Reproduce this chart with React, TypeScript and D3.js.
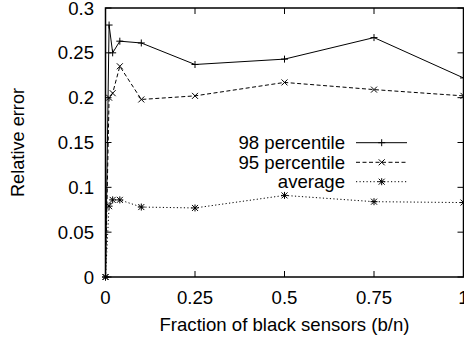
import { useEffect, useRef } from 'react';
import * as d3 from 'd3';

const X_VALUES = [0, 0.01, 0.02, 0.04, 0.1, 0.25, 0.5, 0.75, 1];
const P98 = [0, 0.281, 0.25, 0.263, 0.261, 0.237, 0.243, 0.267, 0.222];
const P95 = [0, 0.2, 0.205, 0.235, 0.198, 0.202, 0.217, 0.209, 0.202];
const AVG = [0, 0.079, 0.086, 0.086, 0.078, 0.077, 0.091, 0.084, 0.083];

const X_TICKS = [0, 0.25, 0.5, 0.75, 1];
const X_TICK_LABELS = ['0', '0.25', '0.5', '0.75', '1'];
const Y_TICKS = [0, 0.05, 0.1, 0.15, 0.2, 0.25, 0.3];
const Y_TICK_LABELS = ['0', '0.05', '0.1', '0.15', '0.2', '0.25', '0.3'];

const SERIES_NAMES = ['98 percentile', '95 percentile', 'average'];

const WIDTH = 464;
const HEIGHT = 341;
const PLOT = { left: 105.5, right: 463.5, top: 8, bottom: 277 };
const FONT = '"Liberation Sans", Arial, Helvetica, sans-serif';
const FONT_SIZE = 18.6;
const TICK = 6;

type Marker = 'plus' | 'cross' | 'star';

const markerPath = (kind: Marker, x: number, y: number) => {
  const p = 3.5;
  const c = 3;
  const plus = `M${x - p},${y}H${x + p}M${x},${y - p}V${y + p}`;
  const cross = `M${x - c},${y - c}L${x + c},${y + c}M${x - c},${y + c}L${x + c},${y - c}`;
  if (kind === 'plus') return plus;
  if (kind === 'cross') return cross;
  return plus + cross;
};

export default function App() {
  const svgRef = useRef<SVGSVGElement>(null);

  useEffect(() => {
    if (!svgRef.current) return;
    const svg = d3.select(svgRef.current);
    svg.selectAll('*').remove();

    const x = d3.scaleLinear().domain([0, 1]).range([PLOT.left, PLOT.right]);
    const y = d3.scaleLinear().domain([0, 0.3]).range([PLOT.bottom, PLOT.top]);

    const g = svg.append('g');

    // ticks on all four sides, pointing inward
    X_TICKS.forEach((t, i) => {
      g.append('line')
        .attr('x1', x(t)).attr('x2', x(t))
        .attr('y1', PLOT.bottom).attr('y2', PLOT.bottom - TICK)
        .attr('stroke', '#000').attr('stroke-width', 1);
      g.append('line')
        .attr('x1', x(t)).attr('x2', x(t))
        .attr('y1', PLOT.top).attr('y2', PLOT.top + TICK)
        .attr('stroke', '#000').attr('stroke-width', 1);
      g.append('text')
        .attr('x', x(t)).attr('y', 304)
        .attr('text-anchor', 'middle')
        .attr('font-family', FONT).attr('font-size', FONT_SIZE)
        .attr('fill', '#000')
        .text(X_TICK_LABELS[i]);
    });

    Y_TICKS.forEach((t, i) => {
      g.append('line')
        .attr('x1', PLOT.left).attr('x2', PLOT.left + TICK)
        .attr('y1', y(t)).attr('y2', y(t))
        .attr('stroke', '#000').attr('stroke-width', 1);
      g.append('line')
        .attr('x1', PLOT.right).attr('x2', PLOT.right - TICK)
        .attr('y1', y(t)).attr('y2', y(t))
        .attr('stroke', '#000').attr('stroke-width', 1);
      g.append('text')
        .attr('x', 94).attr('y', y(t) + 6.6)
        .attr('text-anchor', 'end')
        .attr('font-family', FONT).attr('font-size', FONT_SIZE)
        .attr('fill', '#000')
        .text(Y_TICK_LABELS[i]);
    });

    // series
    const styles: { values: number[]; dash: string | null; marker: Marker }[] = [
      { values: P98, dash: null, marker: 'plus' },
      { values: P95, dash: '4,2.5', marker: 'cross' },
      { values: AVG, dash: '1.2,2.3', marker: 'star' },
    ];

    const line = d3.line<number>()
      .x((_, i) => x(X_VALUES[i]))
      .y(d => y(d));

    styles.forEach(s => {
      const path = g.append('path')
        .datum(s.values)
        .attr('fill', 'none')
        .attr('stroke', '#000')
        .attr('stroke-width', 1)
        .attr('d', line);
      if (s.dash) path.attr('stroke-dasharray', s.dash);
      s.values.forEach((v, i) => {
        g.append('path')
          .attr('d', markerPath(s.marker, x(X_VALUES[i]), y(v)))
          .attr('stroke', '#000').attr('stroke-width', 1).attr('fill', 'none');
      });
    });

    // legend
    const legendRows = [142.7, 162.3, 181.7];
    SERIES_NAMES.forEach((name, i) => {
      const ly = legendRows[i];
      g.append('text')
        .attr('x', 345).attr('y', ly + 6.6)
        .attr('text-anchor', 'end')
        .attr('font-family', FONT).attr('font-size', FONT_SIZE)
        .attr('fill', '#000')
        .text(name);
      const l = g.append('line')
        .attr('x1', 356).attr('x2', 407)
        .attr('y1', ly).attr('y2', ly)
        .attr('stroke', '#000').attr('stroke-width', 1);
      if (styles[i].dash) l.attr('stroke-dasharray', styles[i].dash as string);
      g.append('path')
        .attr('d', markerPath(styles[i].marker, 381.7, ly))
        .attr('stroke', '#000').attr('stroke-width', 1).attr('fill', 'none');
    });

    // frame
    g.append('rect')
      .attr('x', PLOT.left).attr('y', PLOT.top)
      .attr('width', PLOT.right - PLOT.left).attr('height', PLOT.bottom - PLOT.top)
      .attr('fill', 'none').attr('stroke', '#000').attr('stroke-width', 1.5);

    // axis titles
    g.append('text')
      .attr('x', (PLOT.left + PLOT.right) / 2).attr('y', 331)
      .attr('text-anchor', 'middle')
      .attr('font-family', FONT).attr('font-size', FONT_SIZE)
      .attr('fill', '#000')
      .text('Fraction of black sensors (b/n)');

    g.append('text')
      .attr('transform', `translate(23.5,${(PLOT.top + PLOT.bottom) / 2 + 0}) rotate(-90)`)
      .attr('text-anchor', 'middle')
      .attr('font-family', FONT).attr('font-size', 18.2)
      .attr('fill', '#000')
      .text('Relative error');
  }, []);

  return (
    <svg
      ref={svgRef}
      width={WIDTH}
      height={HEIGHT}
      style={{ position: 'absolute', left: 0, top: 0, display: 'block', background: '#fff' }}
    />
  );
}
